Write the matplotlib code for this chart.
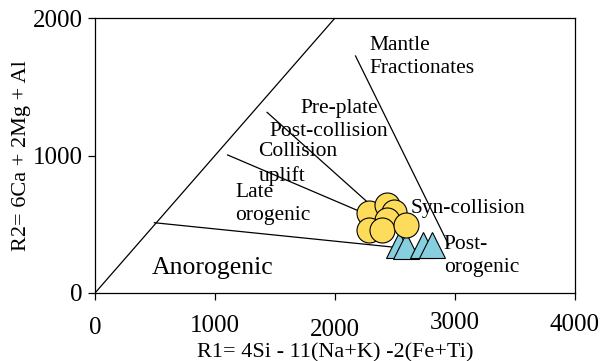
import matplotlib
matplotlib.use('Agg')
import matplotlib.pyplot as plt
from matplotlib.transforms import ScaledTranslation

plt.rcParams['font.family'] = ['Liberation Serif', 'DejaVu Serif']

# R1-R2 discrimination diagram (Batchelor & Bowden)
# granite samples
circle_r1 = [2282, 2436, 2491, 2436, 2282, 2394, 2589]
circle_r2 = [580, 640, 591, 531, 458, 458, 495]

# other samples
tri_r1 = [2530, 2589, 2731, 2806]
tri_r2 = [349, 345, 349, 349]

# field boundaries: (r1 start, r1 end), (r2 start, r2 end)
boundaries = [
    ((0, 2000), (0, 2000)),
    ((495, 2750), (511, 310)),
    ((2171, 2948), (1724, 349)),
    ((1105, 2350), (1004, 540)),
    ((1434, 2400), (1314, 560)),
]

# field names: text, r1, r2
fields = [
    ('Mantle\nFractionates', 2288, 1716),
    ('Pre-plate', 1712, 1345),
    ('Post-collision', 1453, 1178),
    ('Collision\nuplift', 1361, 938),
    ('Late\norogenic', 1169, 647),
    ('Syn-collision', 2630, 618),
    ('Post-\norogenic', 2906, 269),
]

xticks = [0, 1000, 2000, 3000, 4000]
yticks = [0, 1000, 2000]
# vertical nudges of the x tick labels (points)
xtick_shift = [0, 1, -2, 3, 2]

fig = plt.figure(figsize=(6.06, 3.61), dpi=100)
ax = fig.add_axes([0.1568, 0.1884, 0.792, 0.7617])

for xs, ys in boundaries:
    ax.plot(xs, ys, color='black', lw=0.9, zorder=1)

ax.plot(tri_r1, tri_r2, linestyle='none', marker='^', markersize=19,
        markerfacecolor='#86CFDF', markeredgecolor='black', markeredgewidth=0.8, zorder=3)
ax.plot(circle_r1, circle_r2, linestyle='none', marker='o', markersize=18,
        markerfacecolor='#FDDC5C', markeredgecolor='black', markeredgewidth=0.8, zorder=4)

for txt, x, y in fields:
    ax.text(x, y, txt, fontsize=15.5, ha='left', va='center', linespacing=1.32, zorder=5)
ax.text(476, 182, 'Anorogenic', fontsize=18.5, ha='left', va='center', zorder=5)

ax.set_xlim(0, 4000)
ax.set_ylim(0, 2000)
ax.set_xticks(xticks)
ax.set_yticks(yticks)
ax.tick_params(direction='out', length=5, width=0.9, labelsize=18)
ax.tick_params(axis='x', pad=12)
ax.tick_params(axis='y', pad=4)
for lab, dy in zip(ax.get_xticklabels(), xtick_shift):
    lab.set_transform(lab.get_transform() + ScaledTranslation(0, dy / 72, fig.dpi_scale_trans))
for s in ax.spines.values():
    s.set_linewidth(0.9)

ax.set_xlabel('R1= 4Si - 11(Na+K) -2(Fe+Ti)', fontsize=16, labelpad=1)
ax.set_ylabel('R2= 6Ca + 2Mg + Al', fontsize=16, labelpad=1)

fig.savefig('out.png', dpi=100)
